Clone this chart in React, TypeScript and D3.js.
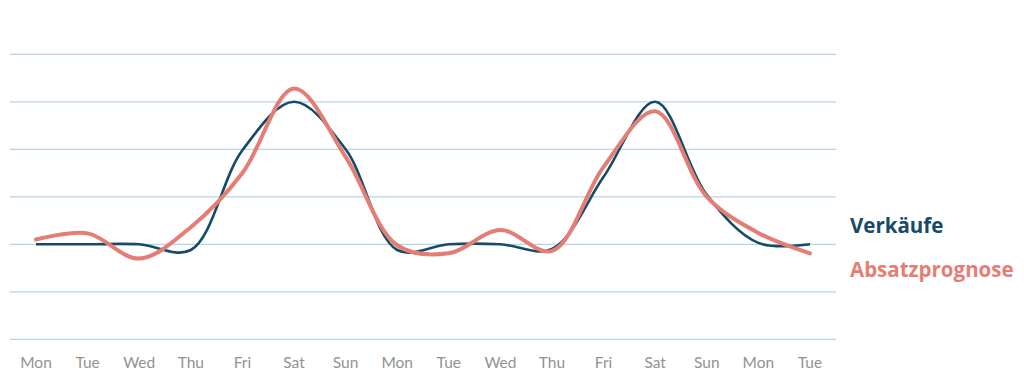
import React from 'react';
import * as d3 from 'd3';

const days = ['Mon', 'Tue', 'Wed', 'Thu', 'Fri', 'Sat', 'Sun', 'Mon', 'Tue', 'Wed', 'Thu', 'Fri', 'Sat', 'Sun', 'Mon', 'Tue'];
const sales = [2.0, 2.0, 2.0, 1.88, 3.98, 5.0, 4.0, 1.88, 2.0, 2.0, 1.9, 3.42, 5.0, 3.04, 2.03, 2.0];
const forecast = [2.1, 2.23, 1.7, 2.36, 3.5, 5.28, 3.84, 1.98, 1.81, 2.3, 1.86, 3.63, 4.8, 3.0, 2.24, 1.81];
const gridTicks = [0, 1, 2, 3, 4, 5, 6];

const W = 1024;
const H = 392;

const App: React.FC = () => {
  // point scale for the days, linear for the values
  const x = d3.scalePoint<number>()
    .domain(days.map((_, i) => i))
    .range([36, 810]);
  const y = d3.scaleLinear().domain([0, 6]).range([339.3, 54.3]);

  const line = d3.line<number>()
    .x((_, i) => x(i) as number)
    .y(d => y(d))
    .curve(d3.curveCatmullRom.alpha(0.5));

  return (
    <svg width={W} height={H} style={{ position: 'absolute', left: 0, top: 0, background: '#fff' }}>
      <g>
        {gridTicks.map(t => (
          <line key={t} x1={10} x2={836} y1={y(t)} y2={y(t)} stroke="#b9d4e8" strokeWidth={1.3} />
        ))}
      </g>
      <path d={line(sales) ?? ''} fill="none" stroke="#164a69" strokeWidth={2.6} />
      <path d={line(forecast) ?? ''} fill="none" stroke="#e47e74" strokeWidth={4} strokeLinecap="round" />
      <g fontFamily="Lato, 'Open Sans', sans-serif" fontSize={15.5} fill="#929292" textAnchor="middle">
        {days.map((d, i) => (
          <text key={i} x={x(i)} y={368}>{d}</text>
        ))}
      </g>
      <g fontFamily="'Open Sans', sans-serif" fontWeight="bold">
        <text x={850} y={232.5} fontSize={20.5} fill="#164a69">Verkäufe</text>
        <text x={850} y={276.5} fontSize={20.5} fill="#e47e74">Absatzprognose</text>
      </g>
    </svg>
  );
};

export default App;
